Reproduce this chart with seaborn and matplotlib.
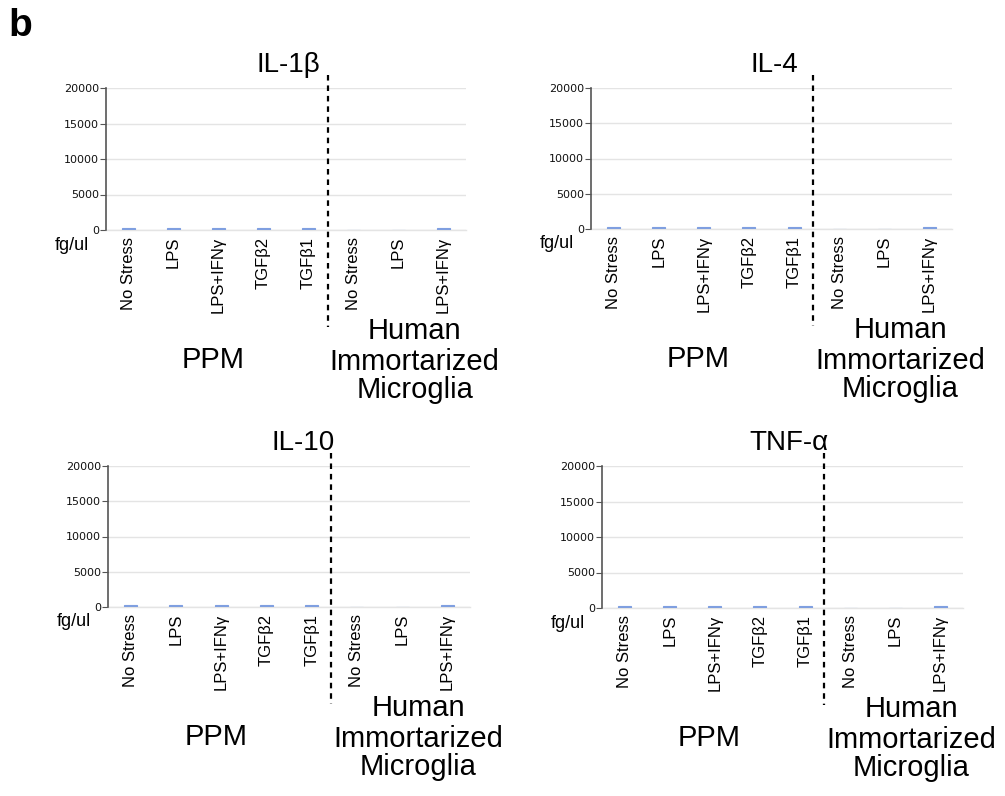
import matplotlib
matplotlib.use("Agg")
import matplotlib.pyplot as plt
import matplotlib.transforms as mtransforms
import seaborn as sns
import pandas as pd

# ---------------- data ----------------
ppm_conditions = ["No Stress", "LPS", "LPS+IFNγ", "TGFβ2", "TGFβ1"]
him_conditions = ["No Stress", "LPS", "LPS+IFNγ"]
cytokines = ["IL-1β", "IL-4", "IL-10", "TNF-α"]

il1b_values = [300, 290, 290, 300, 300, 0, 0, 290]
il4_values = [320, 320, 310, 320, 320, 0, 0, 320]
il10_values = [320, 320, 310, 320, 320, 0, 0, 320]
tnfa_values = [300, 300, 300, 300, 300, 0, 0, 300]
panel_values = [il1b_values, il4_values, il10_values, tnfa_values]

y_ticks = [0, 5000, 10000, 15000, 20000]
unit_label = "fg/ul"
group_ppm = "PPM"
group_him = ["Human", "Immortarized", "Microglia"]

# ---------------- style ----------------
sns.set_theme(style="white")
plt.rcParams["font.family"] = ["Liberation Sans", "DejaVu Sans"]
plt.rcParams["text.color"] = "black"
plt.rcParams["xtick.color"] = "black"
plt.rcParams["ytick.color"] = "black"

W, H = 1005, 796
fig = plt.figure(figsize=(W / 100, H / 100), dpi=100)

# axes boxes in pixels: left, right, top, bottom
boxes = [(106, 466, 88, 230), (591, 952, 88, 229),
         (108, 470, 466, 607), (602, 963, 466, 608)]
title_x = [0.506, 0.508, 0.54, 0.517]

bar_color = "#7f9fe0"
keys = [f"PPM|{c}" for c in ppm_conditions] + [f"HIM|{c}" for c in him_conditions]
labels = ppm_conditions + him_conditions

for i, (name, vals) in enumerate(zip(cytokines, panel_values)):
    l, r, t, b = boxes[i]
    ax = fig.add_axes([l / W, 1 - b / H, (r - l) / W, (b - t) / H])
    df = pd.DataFrame({"cond": keys, "val": vals})
    sns.barplot(data=df, x="cond", y="val", order=keys, color=bar_color,
                width=0.29, ax=ax, errorbar=None, saturation=1,
                edgecolor=bar_color, linewidth=0.8)
    for p in ax.patches:
        p.set_zorder(4)
    ax_h = b - t
    ax.set_xlim(-0.5, 7.5)
    ax.set_ylim(0, 20000)
    ax.set_yticks(y_ticks)
    ax.set_yticklabels([str(v) for v in y_ticks], family="DejaVu Sans",
                       fontsize=8, color="#111111")
    ax.set_xticks(range(len(keys)))
    ax.set_xticklabels(labels, rotation=90, fontsize=12, color="black")
    ax.tick_params(axis="x", length=0, pad=5)
    ax.tick_params(axis="y", length=4, width=0.8, color="#555555", pad=1,
                   left=True)
    ax.set_xlabel("")
    ax.set_ylabel("")
    ax.yaxis.grid(True, color="#e4e4e4", linewidth=1)
    ax.set_axisbelow(True)
    for s in ["top", "right"]:
        ax.spines[s].set_visible(False)
    ax.spines["bottom"].set_color("#e4e4e4")
    ax.spines["bottom"].set_linewidth(1)
    ax.spines["bottom"].set_zorder(1)
    ax.spines["left"].set_color("#555555")
    ax.spines["left"].set_linewidth(1.2)

    # title
    ax.text(title_x[i], 1 + 16 / ax_h, name, transform=ax.transAxes,
            ha="center", va="baseline", fontsize=20, color="black")
    # unit label
    ax.text(-51 / (r - l), -15 / ax_h, unit_label, transform=ax.transAxes,
            ha="left", va="center", fontsize=13, color="black")

    trans = mtransforms.blended_transform_factory(ax.transData, ax.transAxes)
    # separator
    ax.plot([4.43, 4.43], [1 + 13 / ax_h, -97 / ax_h], transform=trans,
            color="black", linewidth=1.6, linestyle=(0, (2.5, 2.2)),
            clip_on=False)
    # group labels
    ax.text(1.88, -138 / ax_h, group_ppm, transform=trans, ha="center",
            va="baseline", fontsize=21, color="black")
    for txt, off in zip(group_him, [109, 140, 168]):
        ax.text(6.36, -off / ax_h, txt, transform=trans, ha="center",
                va="baseline", fontsize=21, color="black")

fig.text(8 / W, 1 - 8 / H, "b", fontsize=28, fontweight="bold",
         ha="left", va="top", color="black")

fig.savefig("out.png", dpi=100, facecolor="white")
